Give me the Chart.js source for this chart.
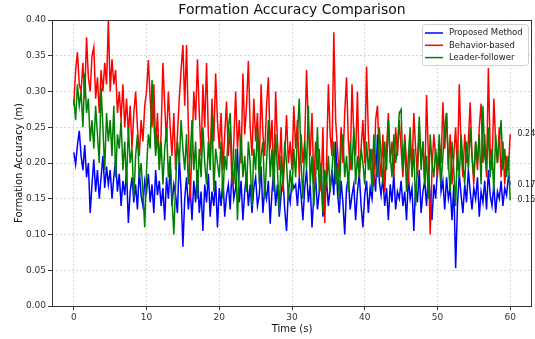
<!DOCTYPE html>
<html>
<head>
<meta charset="utf-8">
<script src="https://cdn.jsdelivr.net/npm/chart.js@4"></script>
<style>
  body { margin: 0; background: #fff; }
  canvas { display: block; }
</style>
</head>
<body>
<canvas id="chart" width="535" height="339"></canvas>
<script>
// data, sampled every 0.25 s from 0 to 60 s
const dt = 0.25;
const seriesNames = ['Proposed Method', 'Behavior-based', 'Leader-follower'];
const seriesColors = ['#0000ff', '#ff0000', '#008000'];

const proposed = [
    0.215, 0.198, 0.225, 0.245, 0.21, 0.19, 0.225, 0.18, 0.20, 0.13, 0.17, 0.205, 0.16, 0.19, 0.15, 0.18, 0.21, 0.165, 0.195, 0.17,
    0.19, 0.15, 0.18, 0.205, 0.16, 0.185, 0.14, 0.175, 0.155, 0.19, 0.116, 0.16, 0.18, 0.145, 0.17, 0.135, 0.19, 0.155, 0.14, 0.175,
    0.16, 0.185, 0.145, 0.17, 0.13, 0.19, 0.155, 0.175, 0.14, 0.165, 0.12, 0.18, 0.15, 0.195, 0.14, 0.17, 0.155, 0.13, 0.208, 0.16,
    0.083, 0.15, 0.18, 0.135, 0.165, 0.12, 0.175, 0.145, 0.19, 0.13, 0.16, 0.105, 0.17, 0.145, 0.185, 0.125, 0.16, 0.14, 0.175, 0.11,
    0.165, 0.14, 0.18, 0.125, 0.155, 0.17, 0.135, 0.19, 0.15, 0.165, 0.22, 0.145, 0.175, 0.12, 0.16, 0.185, 0.14, 0.17, 0.13, 0.165,
    0.18, 0.14, 0.155, 0.195, 0.13, 0.165, 0.15, 0.175, 0.115, 0.16, 0.19, 0.14, 0.17, 0.125, 0.155, 0.18, 0.135, 0.105, 0.16, 0.145,
    0.175, 0.165, 0.17, 0.14, 0.18, 0.155, 0.12, 0.165, 0.19, 0.145, 0.17, 0.11, 0.155, 0.18, 0.135, 0.16, 0.19, 0.125, 0.15, 0.175,
    0.14, 0.165, 0.19, 0.155, 0.23, 0.16, 0.13, 0.175, 0.145, 0.10, 0.165, 0.18, 0.135, 0.155, 0.17, 0.12, 0.16, 0.185, 0.14, 0.11,
    0.155, 0.175, 0.13, 0.165, 0.15, 0.185, 0.16, 0.24, 0.175, 0.155, 0.18, 0.14, 0.165, 0.12, 0.17, 0.145, 0.185, 0.135, 0.16, 0.15,
    0.175, 0.14, 0.16, 0.12, 0.18, 0.15, 0.165, 0.105, 0.17, 0.145, 0.19, 0.13, 0.16, 0.175, 0.14, 0.185, 0.155, 0.12, 0.17, 0.15,
    0.19, 0.214, 0.16, 0.175, 0.135, 0.18, 0.15, 0.165, 0.12, 0.17, 0.053, 0.14, 0.185, 0.155, 0.13, 0.17, 0.145, 0.19, 0.16, 0.135,
    0.165, 0.15, 0.18, 0.125, 0.16, 0.145, 0.175, 0.135, 0.19, 0.155, 0.14, 0.17, 0.13, 0.16, 0.15, 0.175, 0.14, 0.165, 0.155, 0.18,
    0.17
];

const behavior = [
    0.28, 0.33, 0.355, 0.31, 0.30, 0.34, 0.29, 0.376, 0.32, 0.30, 0.35, 0.362, 0.29, 0.32, 0.27, 0.33, 0.30, 0.34, 0.31, 0.40,
    0.30, 0.345, 0.31, 0.33, 0.27, 0.30, 0.26, 0.31, 0.25, 0.29, 0.24, 0.28, 0.22, 0.27, 0.30, 0.25, 0.21, 0.26, 0.23, 0.28,
    0.30, 0.344, 0.29, 0.25, 0.31, 0.22, 0.27, 0.20, 0.24, 0.34, 0.28, 0.23, 0.30, 0.25, 0.21, 0.27, 0.19, 0.24, 0.29, 0.33,
    0.365, 0.28, 0.365, 0.25, 0.15, 0.22, 0.30, 0.26, 0.345, 0.27, 0.21, 0.31, 0.25, 0.34, 0.24, 0.20, 0.29, 0.23, 0.325, 0.26,
    0.22, 0.27, 0.19, 0.24, 0.286, 0.21, 0.25, 0.17, 0.23, 0.30, 0.22, 0.26, 0.20, 0.325, 0.24, 0.28, 0.343, 0.25, 0.21, 0.29,
    0.23, 0.27, 0.19, 0.31, 0.24, 0.21, 0.28, 0.32, 0.22, 0.26, 0.17, 0.30, 0.23, 0.19, 0.25, 0.16, 0.21, 0.267, 0.20, 0.23,
    0.19, 0.28, 0.22, 0.26, 0.18, 0.24, 0.20, 0.23, 0.33, 0.25, 0.21, 0.27, 0.17, 0.23, 0.19, 0.22, 0.16, 0.25, 0.116, 0.20,
    0.31, 0.24, 0.21, 0.383, 0.26, 0.22, 0.18, 0.25, 0.20, 0.27, 0.32, 0.23, 0.19, 0.31, 0.24, 0.21, 0.30, 0.18, 0.22, 0.26,
    0.20, 0.335, 0.24, 0.19, 0.22, 0.17, 0.26, 0.28, 0.21, 0.18, 0.24, 0.16, 0.22, 0.27, 0.20, 0.23, 0.18, 0.25, 0.21, 0.26,
    0.22, 0.18, 0.24, 0.20, 0.17, 0.23, 0.19, 0.27, 0.22, 0.18, 0.25, 0.20, 0.23, 0.17, 0.295, 0.21, 0.10, 0.19, 0.24, 0.21,
    0.18, 0.23, 0.20, 0.285, 0.22, 0.27, 0.19, 0.24, 0.17, 0.21, 0.25, 0.19, 0.31, 0.22, 0.18, 0.24, 0.20, 0.23, 0.285, 0.21,
    0.17, 0.23, 0.19, 0.25, 0.283, 0.20, 0.24, 0.18, 0.333, 0.22, 0.19, 0.29, 0.23, 0.20, 0.25, 0.18, 0.23, 0.17, 0.21, 0.19,
    0.24
];

const leader = [
    0.29, 0.26, 0.31, 0.28, 0.30, 0.25, 0.325, 0.27, 0.29, 0.23, 0.26, 0.22, 0.28, 0.24, 0.20, 0.306, 0.25, 0.19, 0.27, 0.23,
    0.26, 0.21, 0.28, 0.18, 0.24, 0.22, 0.26, 0.19, 0.23, 0.17, 0.25, 0.20, 0.22, 0.15, 0.21, 0.24, 0.18, 0.20, 0.16, 0.11,
    0.19, 0.24, 0.22, 0.316, 0.26, 0.21, 0.24, 0.19, 0.23, 0.17, 0.22, 0.25, 0.18, 0.21, 0.15, 0.10, 0.17, 0.23, 0.20, 0.26,
    0.22, 0.19, 0.24, 0.17, 0.21, 0.26, 0.19, 0.23, 0.15, 0.22, 0.18, 0.25, 0.20, 0.17, 0.23, 0.19, 0.27, 0.16, 0.22, 0.20,
    0.18, 0.23, 0.15, 0.21, 0.19, 0.25, 0.27, 0.20, 0.17, 0.22, 0.12, 0.19, 0.24, 0.18, 0.21, 0.16, 0.23, 0.20, 0.14, 0.22,
    0.19, 0.25, 0.17, 0.21, 0.23, 0.15, 0.20, 0.26, 0.18, 0.22, 0.16, 0.24, 0.19, 0.13, 0.21, 0.17, 0.23, 0.20, 0.15, 0.19,
    0.16, 0.22, 0.18, 0.24, 0.29, 0.20, 0.15, 0.23, 0.19, 0.28, 0.17, 0.21, 0.14, 0.18, 0.25, 0.16, 0.20, 0.13, 0.19, 0.17,
    0.21, 0.16, 0.19, 0.23, 0.17, 0.20, 0.15, 0.22, 0.24, 0.18, 0.21, 0.16, 0.23, 0.19, 0.25, 0.17, 0.21, 0.18, 0.22, 0.20,
    0.17, 0.23, 0.19, 0.22, 0.16, 0.24, 0.20, 0.18, 0.25, 0.21, 0.17, 0.23, 0.19, 0.26, 0.21, 0.18, 0.24, 0.20, 0.22, 0.27,
    0.275, 0.19, 0.23, 0.16, 0.21, 0.25, 0.18, 0.22, 0.14, 0.20, 0.265, 0.19, 0.23, 0.17, 0.21, 0.15, 0.24, 0.20, 0.18, 0.22,
    0.19, 0.24, 0.17, 0.21, 0.25, 0.27, 0.20, 0.16, 0.23, 0.19, 0.14, 0.22, 0.18, 0.24, 0.20, 0.17, 0.23, 0.19, 0.25, 0.21,
    0.18, 0.23, 0.20, 0.24, 0.17, 0.28, 0.21, 0.19, 0.25, 0.18, 0.22, 0.16, 0.24, 0.20, 0.23, 0.26, 0.19, 0.22, 0.18, 0.21,
    0.148
];

const xTicks = [0, 10, 20, 30, 40, 50, 60];
const yTicks = [0, 0.05, 0.10, 0.15, 0.20, 0.25, 0.30, 0.35, 0.40];

const FONT = 'DejaVu Sans';
Chart.defaults.font.family = FONT;

const toPoints = (vals) => vals.map((v, i) => ({ x: i * dt, y: v }));

// draw order: blue first, green on top (like matplotlib)
const datasets = [proposed, behavior, leader].map((vals, k) => ({
    label: seriesNames[k],
    data: toPoints(vals),
    borderColor: seriesColors[k],
    borderWidth: 1.5,
    pointRadius: 0,
    tension: 0,
    order: 3 - k
}));

// frame, title, axis titles, legend, end labels
const extras = {
    id: 'extras',
    afterDraw(chart) {
        const { ctx, chartArea: a, scales: { x, y } } = chart;
        ctx.save();

        ctx.strokeStyle = '#333';
        ctx.lineWidth = 1;
        ctx.strokeRect(a.left + 0.5, a.top + 0.5, a.right - a.left - 1, a.bottom - a.top);

        ctx.fillStyle = '#111';
        ctx.textAlign = 'center';
        ctx.textBaseline = 'middle';
        ctx.font = '14px ' + FONT;
        ctx.fillText('Formation Accuracy Comparison', (a.left + a.right) / 2, 10);

        ctx.font = '10px ' + FONT;
        ctx.fillText('Time (s)', (a.left + a.right) / 2, 329);
        ctx.save();
        ctx.translate(19, (a.top + a.bottom) / 2);
        ctx.rotate(-Math.PI / 2);
        ctx.fillText('Formation Accuracy (m)', 0, 0);
        ctx.restore();

        // last value labels
        ctx.font = '8px ' + FONT;
        ctx.textAlign = 'left';
        ctx.fillStyle = '#222';
        chart.data.datasets.forEach((ds) => {
            const last = ds.data[ds.data.length - 1];
            ctx.fillText(last.y.toFixed(2), x.getPixelForValue(61), y.getPixelForValue(last.y));
        });

        // legend
        const lx = 422, ly = 24, lw = 106, lh = 41;
        ctx.beginPath();
        ctx.roundRect(lx + 0.5, ly + 0.5, lw, lh, 3);
        ctx.fillStyle = 'rgba(255,255,255,0.8)';
        ctx.fill();
        ctx.strokeStyle = '#d0d0d0';
        ctx.lineWidth = 1;
        ctx.stroke();
        ctx.font = '8.5px ' + FONT;
        chart.data.datasets.forEach((ds, i) => {
            const ry = ly + 9 + i * 12.3;
            ctx.strokeStyle = ds.borderColor;
            ctx.lineWidth = 1.5;
            ctx.beginPath();
            ctx.moveTo(lx + 3, ry);
            ctx.lineTo(lx + 21, ry);
            ctx.stroke();
            ctx.fillStyle = '#222';
            ctx.fillText(ds.label, lx + 27, ry);
        });

        ctx.restore();
    }
};

const gridStyle = {
    color: '#cfcfcf',
    lineWidth: 0.8,
    tickColor: '#333',
    tickLength: 4,
    tickWidth: 1,
    tickBorderDash: []
};

new Chart(document.getElementById('chart'), {
    type: 'line',
    data: { datasets: datasets },
    options: {
        responsive: false,
        animation: false,
        devicePixelRatio: 1,
        layout: { padding: { top: 20, right: 3, left: 0, bottom: 0 } },
        plugins: {
            legend: { display: false },
            title: { display: false },
            tooltip: { enabled: false }
        },
        scales: {
            x: {
                type: 'linear',
                min: -3,
                max: 63,
                afterBuildTicks: (s) => { s.ticks = xTicks.map((v) => ({ value: v })); },
                afterFit: (s) => { s.height = 33; },
                ticks: { color: '#333', font: { size: 9 }, padding: 2, maxRotation: 0 },
                grid: gridStyle,
                border: { display: false, dash: [2, 2] }
            },
            y: {
                min: 0,
                max: 0.4,
                afterBuildTicks: (s) => { s.ticks = yTicks.map((v) => ({ value: v })); },
                afterFit: (s) => { s.width = 52; },
                ticks: {
                    color: '#333',
                    font: { size: 9 },
                    padding: 2,
                    callback: (v) => Number(v).toFixed(2)
                },
                grid: gridStyle,
                border: { display: false, dash: [2, 2] }
            }
        }
    },
    plugins: [extras]
});
</script>
</body>
</html>
